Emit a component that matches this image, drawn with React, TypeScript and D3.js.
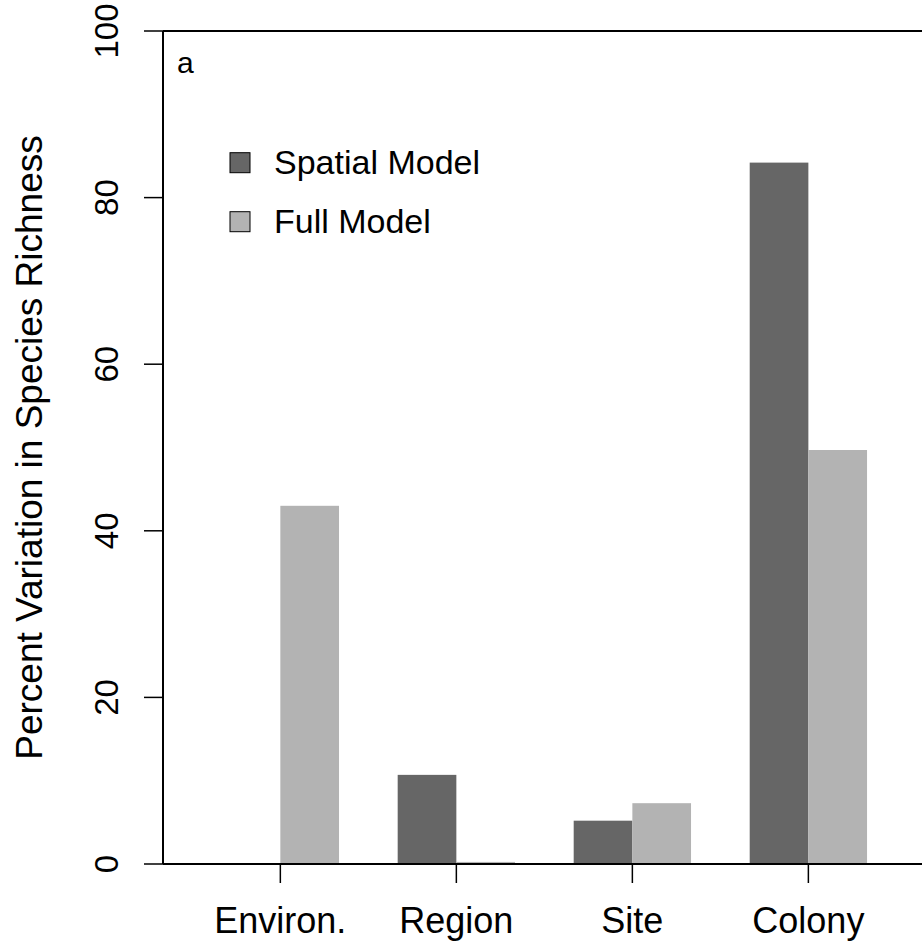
import React from "react";
import * as d3 from "d3";

const categories = ["Environ.", "Region", "Site", "Colony"];
const spatialValues = [0, 10.7, 5.2, 84.2];
const fullValues = [43.0, 0.25, 7.3, 49.7];
const yTicks = [0, 20, 40, 60, 80, 100];
const seriesNames = ["Spatial Model", "Full Model"];
const seriesColors = ["#666666", "#b3b3b3"];

const W = 922;
const H = 943;
const FONT = "'Liberation Sans', Arial, Helvetica, sans-serif";

export default function App() {
  const left = 163;
  const top = 31;
  const bottom = 864;
  const unit = 58.67;
  const x = d3.scaleLinear().domain([0, 13]).range([left, left + 13 * unit]);
  const y = d3.scaleLinear().domain([0, 100]).range([bottom, top]);

  const bars: { x0: number; x1: number; v: number; c: string; k: string }[] = [];
  categories.forEach((cat, i) => {
    bars.push({ x0: x(1 + 3 * i), x1: x(2 + 3 * i), v: spatialValues[i], c: seriesColors[0], k: cat + "s" });
    bars.push({ x0: x(2 + 3 * i), x1: x(3 + 3 * i), v: fullValues[i], c: seriesColors[1], k: cat + "f" });
  });

  return (
    <svg width={W} height={H} style={{ position: "absolute", left: 0, top: 0, background: "#fff" }} fontFamily={FONT}>
      <rect x={0} y={0} width={W} height={H} fill="#fff" />
      {bars.map((b) => (
        <rect key={b.k} x={b.x0} y={y(b.v)} width={b.x1 - b.x0} height={y(0) - y(b.v)} fill={b.c} />
      ))}
      {/* box */}
      <line x1={left} x2={W + 20} y1={top} y2={top} stroke="#000" strokeWidth={2} />
      <line x1={left} x2={W + 20} y1={bottom} y2={bottom} stroke="#000" strokeWidth={2} />
      <line x1={left} x2={left} y1={top} y2={bottom} stroke="#000" strokeWidth={2} />
      {/* y ticks */}
      {yTicks.map((t) => (
        <g key={t}>
          <line x1={left - 19} x2={left} y1={y(t)} y2={y(t)} stroke="#000" strokeWidth={1.5} />
          <text
            transform={`translate(118,${y(t)}) rotate(-90)`}
            textAnchor="middle"
            fontSize={33}
            fill="#000"
          >
            {t}
          </text>
        </g>
      ))}
      {/* x ticks */}
      {categories.map((cat, i) => (
        <g key={cat}>
          <line x1={x(2 + 3 * i)} x2={x(2 + 3 * i)} y1={bottom} y2={bottom + 19} stroke="#000" strokeWidth={1.5} />
          <text x={x(2 + 3 * i)} y={933} textAnchor="middle" fontSize={36} fill="#000">
            {cat}
          </text>
        </g>
      ))}
      {/* y title */}
      <text transform={`translate(41.5,${(top + bottom) / 2}) rotate(-90)`} textAnchor="middle" fontSize={37} fill="#000">
        Percent Variation in Species Richness
      </text>
      {/* panel label */}
      <text x={177} y={73} fontSize={30} fill="#000">a</text>
      {/* legend */}
      {seriesNames.map((s, i) => {
        const cy = 162.7 + i * 59;
        return (
          <g key={s}>
            <rect x={230} y={cy - 10} width={20} height={20} fill={seriesColors[i]} stroke="#000" strokeWidth={1} />
            <text x={274} y={cy + 11} fontSize={34} fill="#000">{s}</text>
          </g>
        );
      })}
    </svg>
  );
}
